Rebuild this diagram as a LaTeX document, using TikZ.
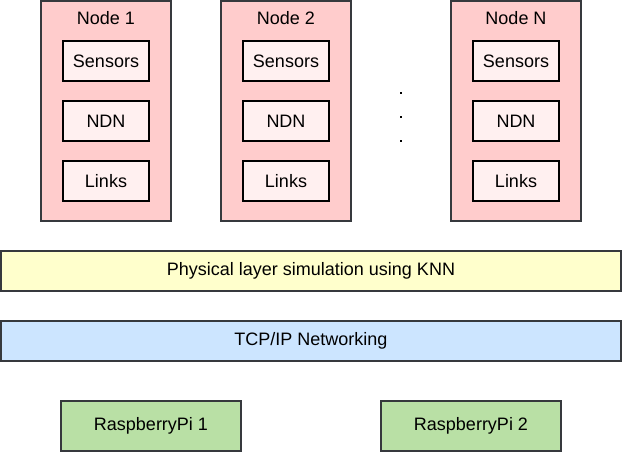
\documentclass[tikz,border=0pt]{standalone}
\usepackage{fontspec}
\setmainfont{Liberation Sans}
\definecolor{nodefill}{HTML}{FFCCCC}
\definecolor{innerfill}{HTML}{FFF0F0}
\definecolor{outerstroke}{HTML}{36393D}
\definecolor{physfill}{HTML}{FFFFCC}
\definecolor{tcpfill}{HTML}{CCE5FF}
\definecolor{pifill}{HTML}{B9E0A5}
\begin{document}
\begin{tikzpicture}[x=0.75pt,y=-0.75pt,
  font=\fontsize{13.5pt}{16pt}\selectfont,
  outerbox/.style={draw=outerstroke,line width=1.2pt,fill=nodefill},
  innerbox/.style={draw=black,line width=1.2pt,fill=innerfill,minimum width=64.5pt,minimum height=30pt,inner sep=0pt},
  layerbox/.style={draw=outerstroke,line width=1.2pt,minimum height=30pt,inner sep=0pt},
  dotmark/.style={fill=black,minimum size=2.2pt,inner sep=0pt}]
\useasboundingbox (0,0) rectangle (622,452);
% node columns
\foreach \name/\x/\lab in {n1/41/Node 1,n2/221/Node 2,nN/451/Node N}{
  \draw[outerbox] (\x,1) rectangle (\x+130,221);
  \node (\name t) at (\x+65,18) {\lab};
  \node[innerbox] (\name s) at (\x+65,61) {Sensors};
  \node[innerbox] (\name d) at (\x+65,121) {NDN};
  \node[innerbox] (\name l) at (\x+65,181) {Links};
}
% dots
\node[dotmark] (d1) at (401,93) {};
\node[dotmark] (d2) at (401,117) {};
\node[dotmark] (d3) at (401,141) {};
% layers
\node[layerbox,fill=physfill,minimum width=465pt] (phys) at (311,271) {Physical layer simulation using KNN};
\node[layerbox,fill=tcpfill,minimum width=465pt] (tcp) at (311,341) {TCP/IP Networking};
\node[layerbox,fill=pifill,minimum width=135pt,minimum height=37.5pt] (pi1) at (151,426) {RaspberryPi 1};
\node[layerbox,fill=pifill,minimum width=135pt,minimum height=37.5pt] (pi2) at (471,426) {RaspberryPi 2};
\end{tikzpicture}
\end{document}
